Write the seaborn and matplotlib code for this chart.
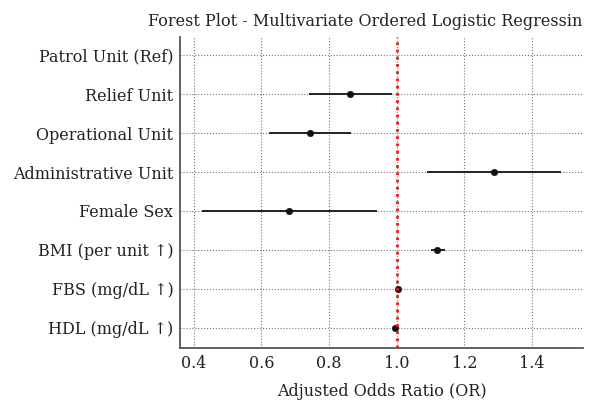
import numpy as np
import pandas as pd
import matplotlib
matplotlib.use('Agg')
import matplotlib.pyplot as plt
import seaborn as sns

# Данные
variables = ['Patrol Unit (Ref)', 'Relief Unit', 'Operational Unit', 'Administrative Unit',
             'Female Sex', 'BMI (per unit ↑)', 'FBS (mg/dL ↑)', 'HDL (mg/dL ↑)']
odds_ratio = [np.nan, 0.862, 0.743, 1.288, 0.683, 1.119, 1.005, 0.995]
ci_low = [np.nan, 0.741, 0.622, 1.090, 0.424, 1.100, 1.000, 0.990]
ci_high = [np.nan, 0.986, 0.866, 1.487, 0.943, 1.142, 1.010, 1.000]

df = pd.DataFrame({'var': variables, 'OR': odds_ratio, 'lo': ci_low, 'hi': ci_high})
df['pos'] = np.arange(len(df))

sns.set_theme(style='white')
plt.rcParams['font.family'] = ['DejaVu Serif', 'Liberation Serif']

fig, ax = plt.subplots(figsize=(5.91, 4.03), dpi=100)

# Доверительные интервалы
ax.hlines(df['pos'], df['lo'], df['hi'], color='#222222', linewidth=1.4, zorder=2)
# Точки OR
sns.scatterplot(data=df.dropna(), x='OR', y='pos', color='#111111', s=22,
                edgecolor='#111111', zorder=3, ax=ax)

ax.axvline(1.0, color='#e0201b', linestyle=(0, (1, 1.6)), linewidth=2,
           dash_capstyle='butt', zorder=4)

ax.set_yticks(df['pos'])
ax.set_yticklabels(df['var'])
ax.set_ylim(7.52, -0.47)
ax.set_xlim(0.36, 1.55)
ax.set_xticks([0.4, 0.6, 0.8, 1.0, 1.2, 1.4])

ax.grid(True, linestyle=':', color='#777777', linewidth=0.8)
ax.set_axisbelow(True)
for side in ['top', 'right']:
    ax.spines[side].set_visible(False)
for side in ['left', 'bottom']:
    ax.spines[side].set_color('#555555')
    ax.spines[side].set_linewidth(1.3)

ax.tick_params(axis='both', labelsize=11.5, length=0, colors='#222222')
ax.tick_params(axis='x', pad=5)
ax.tick_params(axis='y', pad=5)
ax.set_xlabel('Adjusted Odds Ratio (OR)', fontsize=11.5, labelpad=8, color='#222222')
ax.set_ylabel('')
ax.set_title('Forest Plot - Multivariate Ordered Logistic Regressin', fontsize=11.5,
             loc='right', color='#222222', pad=8)

fig.subplots_adjust(left=0.305, right=0.986, top=0.908, bottom=0.137)
plt.savefig('out.png', dpi=100)
